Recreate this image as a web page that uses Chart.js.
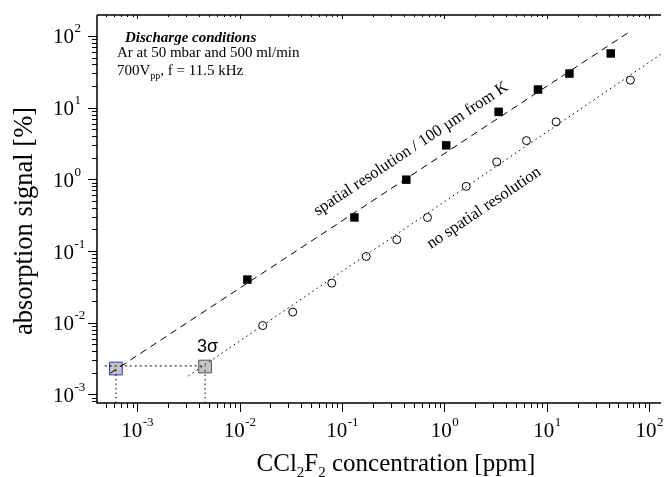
<!DOCTYPE html>
<html><head><meta charset="utf-8">
<script src="https://cdn.jsdelivr.net/npm/chart.js@4/dist/chart.umd.min.js"></script>
<style>html,body{margin:0;padding:0;background:#fff;}canvas{display:block;}</style>
</head><body>
<canvas id="c" width="671" height="477"></canvas>
<script>
// ---- data ----
const spatialX   = [0.0119, 0.132, 0.424, 1.04, 3.38, 8.18, 16.6, 42];
const spatialY   = [0.040, 0.294, 0.99, 2.98, 8.74, 17.9, 29.9, 57];
const noSpatialX = [0.0168, 0.033, 0.0794, 0.172, 0.342, 0.682, 1.63, 3.24, 6.31, 12.3, 65.3];
const noSpatialY = [0.00914, 0.0141, 0.0357, 0.084, 0.144, 0.294, 0.798, 1.75, 3.47, 6.34, 24.2];
const fitSpatialX   = [5.47e-4, 64.3];
const fitSpatialY   = [1.98e-3, 114.5];
const fitNoSpatialX = [3.16e-3, 130];
const fitNoSpatialY = [1.81e-3, 55.6];
const limitX = [6.2e-4, 4.6e-3];     // 3σ detection limits
const limitY = [2.3e-3, 2.45e-3];
const sigmaLineX = [4.82e-4, 4.6e-3];
const sigmaLineY = [2.5e-3, 2.5e-3];
const tickExps = [-3, -2, -1, 0, 1, 2];
const xRange = [4.05e-4, 130];
const yRange = [7.6e-4, 196];

const pts = (xs, ys) => xs.map((v, i) => ({x: v, y: ys[i]}));
const SERIF = '"Liberation Serif","Times New Roman",serif';
const SANS = '"Liberation Sans",Arial,sans-serif';

const frame = {
  id: 'frame',
  afterDraw(chart) {
    const {ctx, chartArea: a, scales: {x, y}} = chart;
    ctx.save();
    ctx.strokeStyle = '#000'; ctx.fillStyle = '#000';
    ctx.lineWidth = 1.5;
    ctx.beginPath();
    ctx.moveTo(a.left, a.top); ctx.lineTo(a.right, a.top);
    ctx.moveTo(a.left, a.top); ctx.lineTo(a.left, a.bottom); ctx.lineTo(a.right, a.bottom);
    ctx.stroke();
    ctx.lineWidth = 1;
    ctx.beginPath();
    for (let e = -4; e <= 3; e++) {
      for (let m = 1; m <= 9; m++) {
        const v = m * Math.pow(10, e);
        if (v >= xRange[0] && v <= xRange[1]) {
          const px = Math.round(x.getPixelForValue(v)) + 0.5;
          ctx.moveTo(px, a.bottom); ctx.lineTo(px, a.bottom + (m === 1 ? 9 : 5));
          ctx.moveTo(px, a.top); ctx.lineTo(px, a.top + (m === 1 ? 4 : 2));
        }
        if (v >= yRange[0] && v <= yRange[1]) {
          const py = Math.round(y.getPixelForValue(v)) + 0.5;
          ctx.moveTo(a.left, py); ctx.lineTo(a.left - (m === 1 ? 9 : 5), py);
        }
      }
    }
    ctx.stroke();
    // tick labels
    const big = '21px ' + SERIF, sup = '13px ' + SERIF;
    ctx.textBaseline = 'alphabetic'; ctx.textAlign = 'left';
    tickExps.forEach(e => {
      const v = Math.pow(10, e);
      const s = e < 0 ? '-' + (-e) : String(e);
      ctx.font = big; const w1 = ctx.measureText('10').width;
      ctx.font = sup; const w2 = ctx.measureText(s).width;
      const px = x.getPixelForValue(v);
      const x0 = px - (w1 + w2) / 2;
      ctx.font = big; ctx.fillText('10', x0, 437);
      ctx.font = sup; ctx.fillText(s, x0 + w1 + 0.5, 426);
      const py = y.getPixelForValue(v);
      ctx.font = big; ctx.fillText('10', 53, py + 7.5);
      ctx.font = sup; ctx.fillText(s, 53 + w1 + 0.5, py - 3.5);
    });
    // x title with subscripts
    const T = '25px ' + SERIF, S = '15px ' + SERIF;
    const parts = [['CCl', T, 0], ['2', S, 6], ['F', T, 0], ['2', S, 6], [' concentration [ppm]', T, 0]];
    let tw = 0;
    parts.forEach(p => { ctx.font = p[1]; tw += ctx.measureText(p[0]).width; });
    let cx = 396 - tw / 2;
    parts.forEach(p => { ctx.font = p[1]; ctx.fillText(p[0], cx, 471 + p[2]); cx += ctx.measureText(p[0]).width; });
    // y title
    ctx.save();
    ctx.translate(25, 221); ctx.rotate(-Math.PI / 2);
    ctx.font = '26.5px ' + SERIF; ctx.textAlign = 'center'; ctx.textBaseline = 'middle';
    ctx.fillText('absorption signal [%]', 0, 0);
    ctx.restore();
    // discharge conditions block
    ctx.font = 'italic bold 15px ' + SERIF;
    ctx.fillText('Discharge conditions', 125, 42);
    ctx.font = '15px ' + SERIF;
    ctx.fillText('Ar at 50 mbar and 500 ml/min', 117, 57);
    let lx = 117;
    ctx.fillText('700V', lx, 75); lx += ctx.measureText('700V').width;
    ctx.font = '10px ' + SERIF; ctx.fillText('pp', lx, 79); lx += ctx.measureText('pp').width;
    ctx.font = '15px ' + SERIF; ctx.fillText(', f = 11.5 kHz', lx, 75);
    // 3σ label
    ctx.font = '18px ' + SANS; ctx.textAlign = 'center';
    ctx.fillText('3σ', 207.5, 352);
    // rotated line labels
    ctx.font = '16.5px ' + SERIF; ctx.textBaseline = 'middle';
    ctx.save(); ctx.translate(411, 149); ctx.rotate(-33.5 * Math.PI / 180);
    ctx.fillText('spatial resolution / 100 µm from K', 0, 0); ctx.restore();
    ctx.save(); ctx.translate(484, 208); ctx.rotate(-34 * Math.PI / 180);
    ctx.fillText('no spatial resolution', 0, 0); ctx.restore();
    ctx.restore();
  }
};

new Chart(document.getElementById('c'), {
  type: 'scatter',
  data: {
    datasets: [
      {label: 'spatial resolution', data: pts(spatialX, spatialY), pointStyle: 'rect', pointRadius: 6,
       backgroundColor: '#000', borderColor: '#000', borderWidth: 0, order: 0},
      {label: 'no spatial resolution', data: pts(noSpatialX, noSpatialY), pointStyle: 'circle', pointRadius: 4,
       backgroundColor: 'rgba(0,0,0,0)', borderColor: '#000', borderWidth: 1, order: 0},
      {label: 'fit spatial', data: pts(fitSpatialX, fitSpatialY), showLine: true, pointRadius: 0,
       borderColor: '#000', borderWidth: 1, borderDash: [7, 5], order: 1},
      {label: 'fit no spatial', data: pts(fitNoSpatialX, fitNoSpatialY), showLine: true, pointRadius: 0,
       borderColor: '#000', borderWidth: 1, borderDash: [1.5, 3.5], order: 1},
      {label: '3σ level', data: pts(sigmaLineX, sigmaLineY), showLine: true, pointRadius: 0,
       borderColor: '#000', borderWidth: 1, borderDash: [2, 3], order: 1},
      {label: 'limit 1', data: pts([limitX[0], limitX[0]], [yRange[0], limitY[0]]), showLine: true, pointRadius: 0,
       borderColor: '#000', borderWidth: 1, borderDash: [1.5, 3], order: 1},
      {label: 'limit 2', data: pts([limitX[1], limitX[1]], [yRange[0], limitY[1]]), showLine: true, pointRadius: 0,
       borderColor: '#000', borderWidth: 1, borderDash: [1.5, 3], order: 1},
      {label: 'limits', data: pts(limitX, limitY), pointStyle: 'rect', pointRadius: 9,
       backgroundColor: '#c4c4c4', borderColor: ['#3535c8', '#555'], borderWidth: 1, order: 2}
    ]
  },
  options: {
    responsive: false, animation: false, devicePixelRatio: 1,
    layout: {padding: {top: 15, left: 0, right: 0, bottom: 0}},
    plugins: {legend: {display: false}, tooltip: {enabled: false}},
    scales: {
      x: {type: 'logarithmic', min: xRange[0], max: xRange[1], grid: {display: false},
          ticks: {display: false}, border: {display: false}, afterFit: s => { s.height = 74; }},
      y: {type: 'logarithmic', min: yRange[0], max: yRange[1], grid: {display: false},
          ticks: {display: false}, border: {display: false}, afterFit: s => { s.width = 97; }}
    }
  },
  plugins: [frame]
});
</script>
</body></html>
